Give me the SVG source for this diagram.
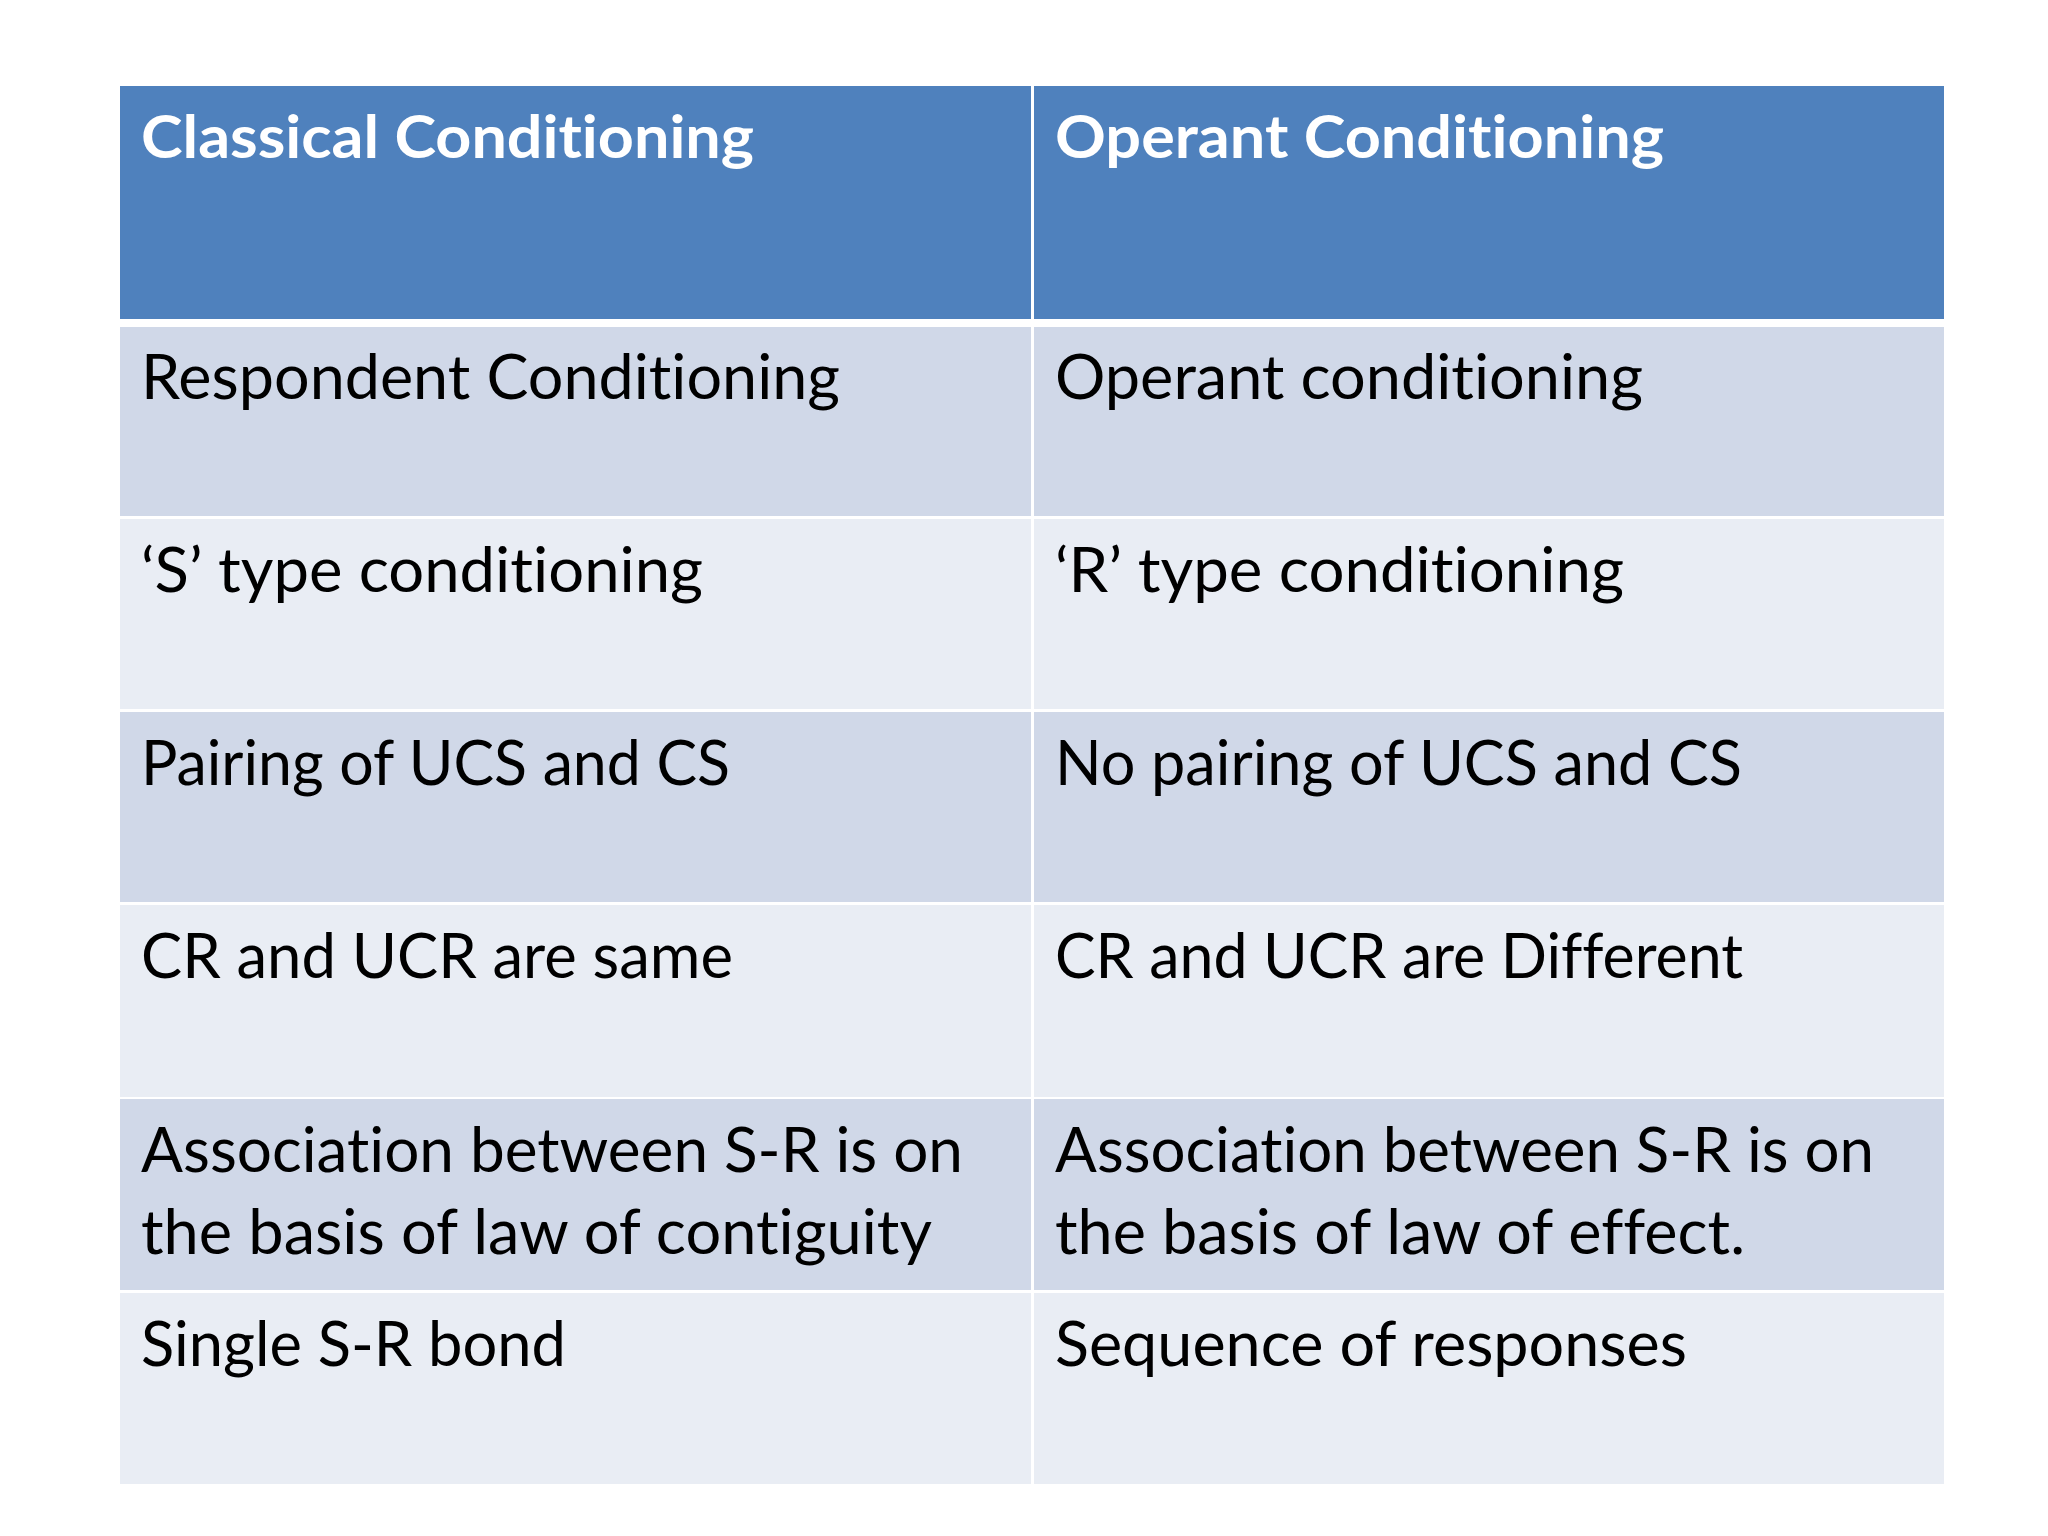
<svg xmlns="http://www.w3.org/2000/svg" width="2048" height="1536" viewBox="0 0 2048 1536">
<style>
.hdr{fill:#4F81BD}
.odd{fill:#D0D8E8}
.even{fill:#E9EDF4}
text{font-variant-ligatures:none;font-feature-settings:"liga" 0,"clig" 0}
.ht{font-family:Lato,"Open Sans","Liberation Sans",sans-serif;font-weight:bold;font-size:60px;fill:#FFFFFF}
.ct{font-family:Lato,"Open Sans","Liberation Sans",sans-serif;font-size:61px;fill:#000000}
</style>
<rect x="0" y="0" width="2048" height="1536" fill="#FFFFFF"/>
<g id="table">
<g id="header-left"><rect class="hdr" x="120" y="86" width="911" height="233"/><text class="ht" x="141" y="158" textLength="613" lengthAdjust="spacingAndGlyphs">Classical Conditioning</text></g>
<g id="header-right"><rect class="hdr" x="1034" y="86" width="910" height="233"/><text class="ht" x="1055" y="158" textLength="609" lengthAdjust="spacingAndGlyphs">Operant Conditioning</text></g>

<g id="r1-left"><rect class="odd" x="120" y="327" width="911" height="189"/><text class="ct" x="141" y="399" textLength="699" lengthAdjust="spacingAndGlyphs">Respondent Conditioning</text></g>
<g id="r1-right"><rect class="odd" x="1034" y="327" width="910" height="189"/><text class="ct" x="1055" y="399" textLength="588" lengthAdjust="spacingAndGlyphs">Operant conditioning</text></g>

<g id="r2-left"><rect class="even" x="120" y="519" width="911" height="190"/><text class="ct" x="141" y="592" textLength="562" lengthAdjust="spacingAndGlyphs">‘S’ type conditioning</text></g>
<g id="r2-right"><rect class="even" x="1034" y="519" width="910" height="190"/><text class="ct" x="1055" y="592" textLength="569" lengthAdjust="spacingAndGlyphs">‘R’ type conditioning</text></g>

<g id="r3-left"><rect class="odd" x="120" y="712" width="911" height="190"/><text class="ct" x="141" y="785" textLength="589" lengthAdjust="spacingAndGlyphs">Pairing of UCS and CS</text></g>
<g id="r3-right"><rect class="odd" x="1034" y="712" width="910" height="190"/><text class="ct" x="1055" y="785" textLength="687" lengthAdjust="spacingAndGlyphs">No pairing of UCS and CS</text></g>

<g id="r4-left"><rect class="even" x="120" y="905" width="911" height="192"/><text class="ct" x="141" y="978" textLength="592" lengthAdjust="spacingAndGlyphs">CR and UCR are same</text></g>
<g id="r4-right"><rect class="even" x="1034" y="905" width="910" height="192"/><text class="ct" x="1055" y="978" textLength="688" lengthAdjust="spacingAndGlyphs">CR and UCR are Different</text></g>

<g id="r5-left"><rect class="odd" x="120" y="1099" width="911" height="191"/><text class="ct" x="141" y="1172" textLength="822" lengthAdjust="spacingAndGlyphs">Association between S-R is on</text><text class="ct" x="141" y="1254" textLength="791" lengthAdjust="spacingAndGlyphs">the basis of law of contiguity</text></g>
<g id="r5-right"><rect class="odd" x="1034" y="1099" width="910" height="191"/><text class="ct" x="1055" y="1172" textLength="819" lengthAdjust="spacingAndGlyphs">Association between S-R is on</text><text class="ct" x="1055" y="1254" textLength="690" lengthAdjust="spacingAndGlyphs">the basis of law of effect.</text></g>

<g id="r6-left"><rect class="even" x="120" y="1293" width="911" height="191"/><text class="ct" x="141" y="1366" textLength="425" lengthAdjust="spacingAndGlyphs">Single S-R bond</text></g>
<g id="r6-right"><rect class="even" x="1034" y="1293" width="910" height="191"/><text class="ct" x="1055" y="1366" textLength="632" lengthAdjust="spacingAndGlyphs">Sequence of responses</text></g>
</g>
<g id="connectors"/>
</svg>
